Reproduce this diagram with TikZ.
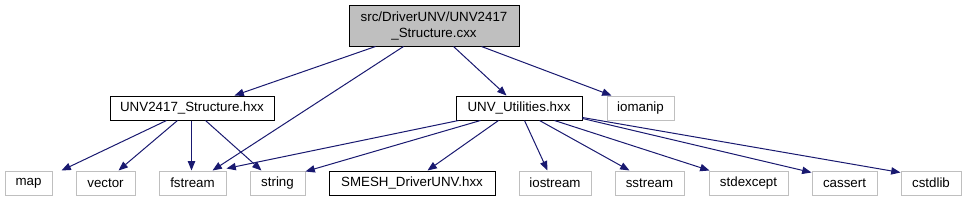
\documentclass[tikz,border=0pt]{standalone}
\usepackage{fontspec}
\setmainfont{Liberation Sans}
\usetikzlibrary{arrows.meta,calc}
\definecolor{edgeblue}{HTML}{191970}
\definecolor{boxgray}{HTML}{BFBFBF}
\begin{document}
\begin{tikzpicture}[x=0.75pt,y=-0.75pt,
  base/.style={rectangle, inner sep=0pt, line width=0.75pt, font=\fontsize{10}{12}\selectfont, minimum height=18pt},
  wd/.style={minimum width={#1*0.75pt}},
  topbox/.style={base, draw=black, fill=boxgray, minimum height={41*0.75pt}, align=center},
  filebox/.style={base, draw=black},
  sysbox/.style={base, draw=boxgray},
  dep/.style={draw=edgeblue, line width=0.75pt, -{Triangle[length=7pt,width=5.5pt]}, color=edgeblue}
]
\useasboundingbox (0,0) rectangle (967,201);
% nodes
\node[topbox, wd=170] (top) at (434,25.5) {src/DriverUNV/UNV2417\\\_Structure.cxx};
\node[filebox, wd=164] (struct) at (192,108) {UNV2417\_Structure.hxx};
\node[filebox, wd=126] (util) at (519,108) {UNV\_Utilities.hxx};
\node[sysbox, wd=67] (iomanip) at (640.5,108) {iomanip};
\node[sysbox, wd=47] (map) at (28.5,183) {map};
\node[sysbox, wd=59] (vector) at (105.5,183) {vector};
\node[sysbox, wd=67] (fstream) at (192.5,183) {fstream};
\node[sysbox, wd=55] (string) at (277.5,183) {string};
\node[filebox, wd=166] (smesh) at (412,183) {SMESH\_DriverUNV.hxx};
\node[sysbox, wd=72] (iostream) at (555,183) {iostream};
\node[sysbox, wd=69] (sstream) at (649.5,183) {sstream};
\node[sysbox, wd=79] (stdexcept) at (748.5,183) {stdexcept};
\node[sysbox, wd=65] (cassert) at (844.5,183) {cassert};
\node[sysbox, wd=60] (cstdlib) at (931,183) {cstdlib};
% edges from top
\draw[dep] ($(top.south west)+(27,0)$) -- ($(struct.north west)+(125,0)$);
\draw[dep] ($(top.south west)+(55,0)$) -- ($(fstream.north west)+(54,0)$);
\draw[dep] ($(top.south west)+(105,0)$) -- ($(util.north west)+(51,0)$);
\draw[dep] ($(top.south west)+(133,0)$) -- ($(iomanip.north west)+(5,0)$);
% edges from UNV2417_Structure.hxx
\draw[dep] ($(struct.south west)+(57,0)$) -- ($(map.north west)+(57,0)$);
\draw[dep] ($(struct.south west)+(68,0)$) -- ($(vector.north west)+(43,0)$);
\draw[dep] ($(struct.south west)+(82,0)$) -- ($(fstream.north west)+(33,0)$);
\draw[dep] ($(struct.south west)+(96,0)$) -- ($(string.north west)+(12,0)$);
% edges from UNV_Utilities.hxx
\draw[dep] ($(util.south west)+(3,0)$) -- ($(fstream.north east)+(0,-2)$);
\draw[dep] ($(util.south west)+(25,0)$) -- ($(string.north east)+(0,1)$);
\draw[dep] ($(util.south west)+(43,0)$) -- ($(smesh.north west)+(99,0)$);
\draw[dep] ($(util.south west)+(69,0)$) -- ($(iostream.north west)+(29,0)$);
\draw[dep] ($(util.south west)+(84,0)$) -- ($(sstream.north west)+(15,0)$);
\draw[dep] ($(util.south west)+(99,0)$) -- ($(stdexcept.north west)+(1,0)$);
\draw[dep] ($(util.south east)+(0,-2)$) -- ($(cassert.north west)+(0,2)$);
\draw[dep] ($(util.south east)+(0,-3)$) -- ($(cstdlib.north west)+(0,2)$);
\end{tikzpicture}
\end{document}
